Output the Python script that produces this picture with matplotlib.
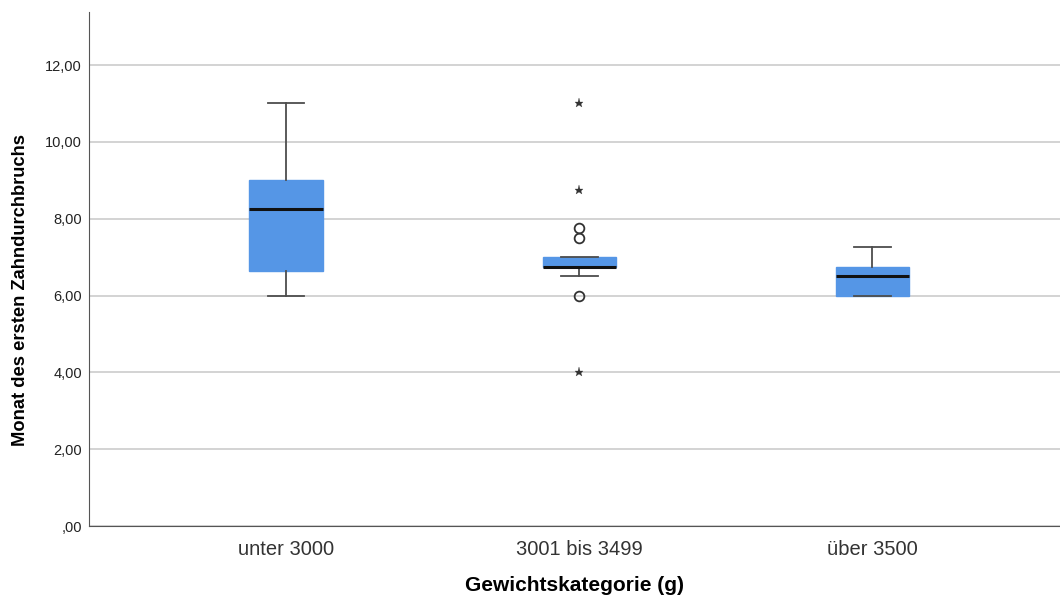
import matplotlib
matplotlib.use("Agg")
import matplotlib.pyplot as plt

categories = ["unter 3000", "3001 bis 3499", "über 3500"]
whisker_low = [6.0, 6.5, 6.0]
q1 = [6.625, 6.75, 6.0]
median = [8.25, 6.75, 6.5]
q3 = [9.0, 7.0, 6.75]
whisker_high = [11.0, 7.0, 7.25]
# outliers: (category index, value)
outliers_circle = [(1, 7.75), (1, 7.5), (1, 6.0)]
outliers_star = [(1, 11.0), (1, 8.75), (1, 4.0)]
yticks = [0, 2, 4, 6, 8, 10, 12]
ytick_labels = [",00", "2,00", "4,00", "6,00", "8,00", "10,00", "12,00"]

plt.rcParams['font.family'] = ['Liberation Sans', 'DejaVu Sans']

fig = plt.figure(figsize=(10.6, 6.01), dpi=100)
ax = fig.add_axes([89/1060, 75/601, (1060-89)/1060, (526-12)/601])

stats = []
for i, c in enumerate(categories):
    stats.append(dict(label=c, whislo=whisker_low[i], q1=q1[i], med=median[i],
                      q3=q3[i], whishi=whisker_high[i], fliers=[]))

positions = list(range(len(categories)))
ax.bxp(stats, positions=positions, widths=0.25, patch_artist=True, showfliers=False,
       boxprops=dict(facecolor="#5596e6", edgecolor="#5596e6", linewidth=1),
       medianprops=dict(color="#111111", linewidth=2.2),
       whiskerprops=dict(color="#4d4d4d", linewidth=1.3),
       capprops=dict(color="#4d4d4d", linewidth=1.3),
       capwidths=0.125, zorder=3)

ax.plot([p for p, v in outliers_circle], [v for p, v in outliers_circle], 'o',
        mfc='none', mec='#333333', ms=7, mew=1.3, zorder=4)
ax.plot([p for p, v in outliers_star], [v for p, v in outliers_star], '*',
        color='#333333', ms=6.5, mew=0.2, zorder=4)

ax.set_xlim(-0.672, 2.64)
ax.set_ylim(0, 13.38)
ax.set_yticks(yticks)
ax.set_yticklabels(ytick_labels, fontsize=10.5, color="#222222")
ax.set_xticks(positions)
ax.set_xticklabels(categories, fontsize=14.5, color="#333333")
ax.yaxis.grid(True, color="#cccccc", linewidth=1.2, zorder=0)
ax.set_axisbelow(True)
for s in ["top", "right"]:
    ax.spines[s].set_visible(False)
for s in ["left", "bottom"]:
    ax.spines[s].set_color("#555555")
ax.tick_params(axis='y', length=0, pad=5)
ax.tick_params(axis='x', length=0, pad=10)
ax.set_ylabel("Monat des ersten Zahndurchbruchs", fontsize=13.2, fontweight='bold')
ax.yaxis.set_label_coords(-0.062, 0.459)
ax.set_xlabel("Gewichtskategorie (g)", fontsize=15, fontweight='bold', labelpad=12)

fig.savefig("out.png", dpi=100)
